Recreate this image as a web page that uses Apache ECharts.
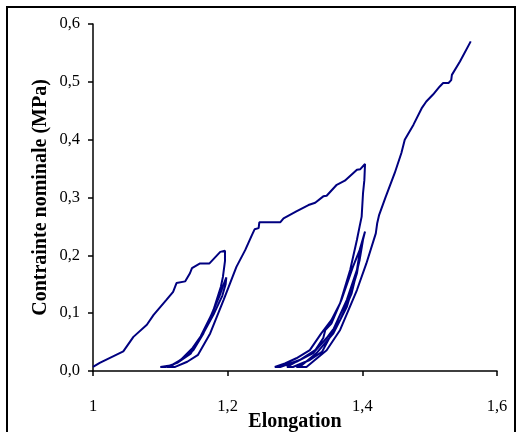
<!DOCTYPE html>
<html><head><meta charset="utf-8">
<script src="https://cdn.jsdelivr.net/npm/echarts@6/dist/echarts.min.js"></script>
<style>html,body{margin:0;padding:0;background:#fff}#c{width:518px;height:432px}</style>
</head><body><div id="c"></div>
<script>
// Data (elongation, contrainte nominale MPa), segment by segment
const load1X = [1.000,1.010,1.045,1.060,1.080,1.090,1.109,1.119,1.124,1.137,1.144,1.147,1.159,1.173,1.189,1.196];
const load1Y = [0.007,0.014,0.034,0.059,0.080,0.097,0.123,0.137,0.152,0.155,0.169,0.178,0.186,0.186,0.206,0.208];
const unload1X = [1.198,1.196,1.193,1.190,1.179,1.164,1.149,1.134,1.117,1.100];
const unload1Y = [0.205,0.190,0.163,0.146,0.106,0.065,0.036,0.022,0.010,0.007];
const reload2X = [1.108,1.125,1.145,1.160,1.175,1.188,1.194,1.198];
const reload2Y = [0.007,0.014,0.030,0.060,0.095,0.130,0.150,0.162];
const unload2X = [1.197,1.192,1.180,1.165,1.148,1.131,1.118,1.110];
const unload2Y = [0.150,0.130,0.100,0.068,0.040,0.020,0.010,0.007];
const reload3X = [1.122,1.140,1.156,1.174,1.194,1.213,1.226,1.236,1.240,1.246,1.247,1.278,1.283,1.302,1.320,1.330,1.342,1.347,1.362,1.374,1.392,1.397,1.404];
const reload3Y = [0.007,0.016,0.028,0.065,0.123,0.180,0.209,0.235,0.245,0.247,0.257,0.257,0.264,0.276,0.287,0.291,0.302,0.303,0.322,0.329,0.348,0.349,0.358];
const unload3X = [1.403,1.401,1.399,1.396,1.392,1.382,1.367,1.354,1.339,1.322,1.302,1.285,1.270];
const unload3Y = [0.330,0.307,0.267,0.250,0.227,0.175,0.117,0.088,0.065,0.036,0.022,0.013,0.007];
const reload4X = [1.278,1.307,1.330,1.342,1.345,1.354,1.369,1.386,1.396,1.404];
const reload4Y = [0.007,0.019,0.036,0.057,0.071,0.082,0.123,0.180,0.209,0.241];
const unload4X = [1.401,1.396,1.384,1.367,1.347,1.327,1.302,1.288];
const unload4Y = [0.227,0.192,0.134,0.088,0.057,0.031,0.016,0.007];
const reload5X = [1.297,1.322,1.340,1.352,1.359,1.377,1.392,1.396,1.399];
const reload5Y = [0.007,0.019,0.033,0.059,0.077,0.123,0.175,0.204,0.221];
const unload5X = [1.396,1.392,1.377,1.357,1.332,1.310,1.302];
const unload5Y = [0.198,0.169,0.111,0.065,0.031,0.010,0.007];
const finalX = [1.317,1.347,1.367,1.392,1.406,1.420,1.422,1.425,1.434,1.448,1.458,1.463,1.476,1.488,1.495,1.505,1.515,1.520,1.528,1.532,1.533,1.545,1.561];
const finalY = [0.007,0.036,0.071,0.140,0.186,0.238,0.255,0.270,0.299,0.342,0.377,0.400,0.426,0.454,0.466,0.478,0.492,0.498,0.498,0.503,0.512,0.535,0.570];

const segX = [load1X,unload1X,reload2X,unload2X,reload3X,unload3X,reload4X,unload4X,reload5X,unload5X,finalX];
const segY = [load1Y,unload1Y,reload2Y,unload2Y,reload3Y,unload3Y,reload4Y,unload4Y,reload5Y,unload5Y,finalY];
const xTitle = 'Elongation';
const yTitle = 'Contrainte nominale (MPa)';

const pts = [];
segX.forEach((xs, i) => xs.forEach((x, j) => pts.push([x, segY[i][j]])));

const font = 'Liberation Serif, Times New Roman, serif';
const chart = echarts.init(document.getElementById('c'), null, {renderer:'canvas'});
chart.setOption({
  animation: false,
  backgroundColor: '#fff',
  graphic: [{type:'rect', shape:{x:7,y:7,width:508,height:440}, style:{fill:'none', stroke:'#000', lineWidth:2}, z:-1}],
  grid: {left:93, right:21, top:24, bottom:61, containLabel:false, outerBoundsMode:'none'},
  xAxis: {
    type:'value', min:1, max:1.6, interval:0.2,
    axisLine:{show:true, onZero:false, lineStyle:{color:'#000', width:1.5}},
    axisTick:{show:true, inside:false, length:5, lineStyle:{color:'#000', width:1.5}},
    splitLine:{show:false},
    axisLabel:{margin:27, color:'#000', fontFamily:font, fontSize:16.5,
      formatter: v => (Math.round(v*10)/10).toString().replace('.', ',')},
    name: xTitle, nameLocation:'middle', nameGap:41, nameMoveOverlap:false,
    nameTextStyle:{color:'#000', fontFamily:font, fontSize:20, fontWeight:'bold'}
  },
  yAxis: {
    type:'value', min:0, max:0.6, interval:0.1,
    axisLine:{show:true, lineStyle:{color:'#000', width:1.5}},
    axisTick:{show:true, inside:false, length:5, lineStyle:{color:'#000', width:1.5}},
    splitLine:{show:false},
    axisLabel:{margin:13, color:'#000', fontFamily:font, fontSize:16.5,
      formatter: v => v.toFixed(1).replace('.', ',')},
    name: yTitle, nameLocation:'middle', nameGap:42, nameRotate:90, nameMoveOverlap:false,
    nameTextStyle:{color:'#000', fontFamily:font, fontSize:20, fontWeight:'bold'}
  },
  series: [{
    type:'line', data: pts, showSymbol:false, symbol:'none',
    lineStyle:{color:'#000080', width:2}, smooth:false
  }]
});
</script></body></html>
